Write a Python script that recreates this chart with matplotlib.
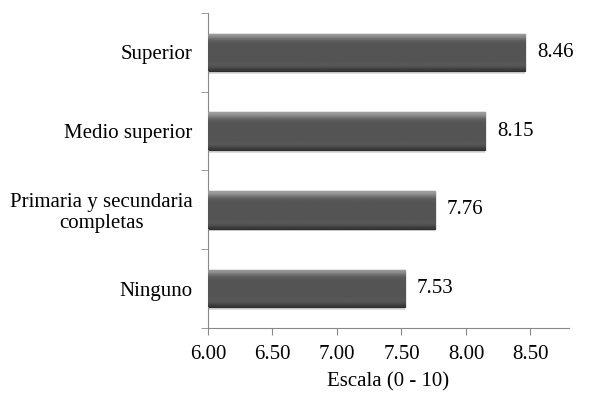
import matplotlib
matplotlib.use('Agg')
import matplotlib.pyplot as plt
import numpy as np

categorias = ['Ninguno', 'Primaria y secundaria\ncompletas', 'Medio superior', 'Superior']
valores = [7.53, 7.76, 8.15, 8.46]
ticks_x = [6.00, 6.50, 7.00, 7.50, 8.00, 8.50]

plt.rcParams['font.family'] = ['Liberation Serif', 'DejaVu Serif']

fig = plt.figure(figsize=(6.01, 3.96), dpi=100)
ax = fig.add_axes([0.346, 0.172, 0.601, 0.795])

y = np.arange(len(categorias))
alto = 0.48

# sombra
ax.barh(y - 0.035, [v - 6 for v in valores], left=6, height=alto, color='#dcdcdc', zorder=1)
barras = ax.barh(y, [v - 6 for v in valores], left=6, height=alto, color='#555555',
                 edgecolor='#2e2e2e', linewidth=0.9, zorder=2)

# degradado vertical (bisel claro arriba, cuerpo oscuro)
grad = np.array([0.62, 0.55, 0.45, 0.37, 0.34, 0.33, 0.33, 0.33, 0.33, 0.33,
                 0.33, 0.33, 0.33, 0.34, 0.34, 0.30, 0.22]).reshape(-1, 1)
for b in barras:
    x0, y0 = b.get_x(), b.get_y()
    im = ax.imshow(grad, cmap='gray', vmin=0, vmax=1, aspect='auto',
                   extent=[x0, x0 + b.get_width(), y0, y0 + b.get_height()],
                   origin='upper', zorder=3, interpolation='bilinear')
    im.set_clip_path(b)

for yi, v in zip(y, valores):
    ax.text(v + 0.09, yi, f'{v:.2f}', va='center', ha='left', fontsize=15, color='black')

ax.set_xlim(6, 8.8)
ax.set_ylim(-0.5, len(categorias) - 0.5)
ax.set_xticks(ticks_x)
ax.set_xticklabels([f'{t:.2f}' for t in ticks_x], fontsize=15)
ax.set_yticks(y)
ax.set_yticklabels(categorias, fontsize=15)
ax.set_yticks(np.arange(-0.5, len(categorias)), minor=True)
ax.tick_params(axis='y', which='major', length=0, pad=11)
ax.tick_params(axis='y', which='minor', length=5, color='#888888', direction='out')
ax.tick_params(axis='x', length=5, color='#888888', direction='out', pad=7)
for lab in ax.get_yticklabels():
    lab.set_multialignment('center')
    lab.set_linespacing(1.12)

ax.set_xlabel('Escala (0 - 10)', fontsize=15, labelpad=6)

for s in ['top', 'right']:
    ax.spines[s].set_visible(False)
for s in ['left', 'bottom']:
    ax.spines[s].set_color('#888888')

fig.savefig('out.png', dpi=100)
